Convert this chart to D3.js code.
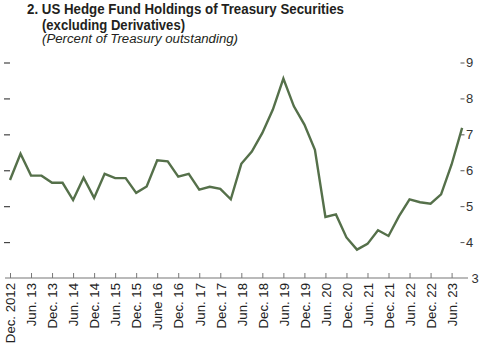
<!DOCTYPE html>
<html><head><meta charset="utf-8">
<script src="https://cdn.jsdelivr.net/npm/d3@7"></script>
<style>
html,body{margin:0;padding:0;background:#fff;}
svg{display:block;}
text{font-family:"Liberation Sans Narrow","Liberation Sans",Arial,sans-serif;}
</style></head>
<body>
<script>
// Quarterly observations, Dec. 2012 .. Sep. 2023
const quarters = ["Dec12","Mar13","Jun13","Sep13","Dec13","Mar14","Jun14","Sep14","Dec14","Mar15","Jun15","Sep15","Dec15","Mar16","Jun16","Sep16","Dec16","Mar17","Jun17","Sep17","Dec17","Mar18","Jun18","Sep18","Dec18","Mar19","Jun19","Sep19","Dec19","Mar20","Jun20","Sep20","Dec20","Mar21","Jun21","Sep21","Dec21","Mar22","Jun22","Sep22","Dec22","Mar23","Jun23","Sep23"];
const holdings = [5.73,6.46,5.85,5.85,5.65,5.65,5.17,5.79,5.23,5.90,5.78,5.78,5.37,5.55,6.28,6.25,5.82,5.90,5.46,5.54,5.48,5.19,6.18,6.52,7.04,7.69,8.55,7.78,7.27,6.57,4.70,4.77,4.13,3.79,3.95,4.33,4.17,4.72,5.19,5.11,5.07,5.33,6.16,7.18];
const tickLabels = ["Dec. 2012","Jun. 13","Dec. 13","Jun. 14","Dec. 14","Jun. 15","Dec. 15","June 16","Dec. 16","Jun. 17","Dec. 17","Jun. 18","Dec. 18","Jun. 19","Dec. 19","Jun. 20","Dec. 20","Jun. 21","Dec. 21","Jun. 22","Dec. 22","Jun. 23"];
const yTicks = [4,5,6,7,8,9];
const titleLines = ["2. US Hedge Fund Holdings of Treasury Securities","(excluding Derivatives)"];
const subtitle = "(Percent of Treasury outstanding)";

const W = 485, H = 351;
const svg = d3.select("body").append("svg").attr("width", W).attr("height", H);

const x = d3.scaleLinear().domain([0, 42]).range([10, 451.6]);
const y = d3.scaleLinear().domain([3, 9]).range([278, 62.5]);

// Title
svg.append("text").attr("x", 27).attr("y", 14)
  .attr("font-size", 15.5).attr("font-weight", "bold").attr("fill", "#231f20")
  .attr("textLength", 317).attr("lengthAdjust", "spacingAndGlyphs")
  .text(titleLines[0]);
svg.append("text").attr("x", 42).attr("y", 29.5)
  .attr("font-size", 15.5).attr("font-weight", "bold").attr("fill", "#231f20")
  .attr("textLength", 143).attr("lengthAdjust", "spacingAndGlyphs")
  .text(titleLines[1]);
svg.append("text").attr("x", 42).attr("y", 43)
  .attr("font-size", 12.5).attr("font-style", "italic").attr("fill", "#231f20")
  .attr("textLength", 196).attr("lengthAdjust", "spacingAndGlyphs")
  .text(subtitle);

// Left ticks (no labels)
const leftAxis = d3.axisLeft(y).tickValues(yTicks).tickSize(6).tickFormat("");
const gl = svg.append("g").attr("transform", "translate(10,0)").call(leftAxis);
gl.select(".domain").remove();
gl.selectAll(".tick line").attr("stroke", "#444").attr("stroke-width", 1.2);

// Right axis
const rightAxis = d3.axisRight(y).tickValues(yTicks).tickSize(4).tickPadding(1.5).tickFormat(d3.format("d"));
const gr = svg.append("g").attr("transform", "translate(460.5,0)").call(rightAxis);
gr.select(".domain").remove();
gr.selectAll(".tick line").attr("stroke", "#555").attr("stroke-width", 1);
gr.selectAll(".tick text").attr("font-size", 13).attr("fill", "#333")
  .attr("font-family", "'Liberation Sans Narrow','Liberation Sans',Arial,sans-serif");
// bottom value label "3"
svg.append("text").attr("x", 471.5).attr("y", y(3)).attr("dy", "0.35em")
  .attr("font-size", 13).attr("fill", "#333").text("3");

// X axis
const xAxis = d3.axisBottom(x).tickValues(d3.range(0, 43, 2))
  .tickSize(-5).tickPadding(0).tickFormat((d, i) => tickLabels[i]);
const gx = svg.append("g").attr("transform", `translate(0,${y(3)})`).call(xAxis);
gx.select(".domain").remove();
gx.selectAll(".tick line").attr("stroke", "#777").attr("stroke-width", 1);
gx.selectAll(".tick text")
  .attr("transform", "rotate(-90)")
  .attr("x", -5).attr("y", 0).attr("dy", "0.36em")
  .attr("text-anchor", "end")
  .attr("font-size", 13.2).attr("fill", "#222")
  .attr("font-family", "'Liberation Sans',Arial,sans-serif");
svg.append("line").attr("x1", 5).attr("x2", 468).attr("y1", y(3)).attr("y2", y(3))
  .attr("stroke", "#777").attr("stroke-width", 1.2);

// Line
const line = d3.line().x((d, i) => x(i)).y(d => y(d));
svg.append("path").datum(holdings)
  .attr("fill", "none").attr("stroke", "#55704a").attr("stroke-width", 2.4)
  .attr("stroke-linejoin", "miter").attr("d", line);
</script>
</body></html>
